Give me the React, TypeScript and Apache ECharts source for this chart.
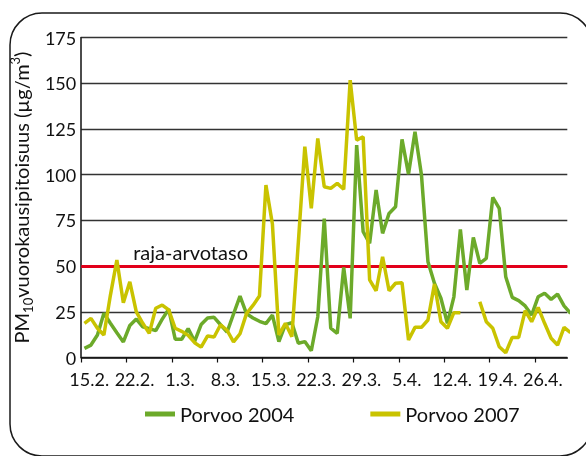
import React, { useEffect, useRef } from "react";
import * as echarts from "echarts";

// Days from 15.2. (index 0) ; each point sits in the middle of its day
const tickDays = [0, 7, 14, 21, 28, 35, 42, 49, 56, 63, 70];
const tickLabels = ["15.2.", "22.2.", "1.3.", "8.3.", "15.3.", "22.3.", "29.3.", "5.4.", "12.4.", "19.4.", "26.4."];

const porvoo2004 = [
  5, 6.8, 12.3, 24.2, 18.7, 13.5, 8.5, 17.5, 21, 16.8,
  15.8, 14.7, 21, 26.4, 10, 10, 15.8, 8.8, 18, 21.6,
  22, 17.9, 13.9, 23.8, 33.6, 24, 21.6, 19.8, 18.5, 23.2,
  8.7, 18, 19, 7.8, 8.7, 3.7, 22.3, 76, 16, 13.2,
  49.3, 21.4, 116.2, 68.8, 62.4, 91.6, 67.9, 78.8, 82.4, 119.3,
  100.3, 123.5, 99.8, 52.4, 40.6, 32.4, 18.7, 33.2, 70, 36.9,
  65.7, 51.5, 54.2, 87.6, 81.6, 44.2, 32.9, 31.1, 28.2, 23.2,
  33.2, 35.1, 31.8, 34.7, 28.2, 24.2,
];

const porvoo2007: (number | null)[] = [
  18.7, 21.4, 16, 12.3, 34, 53.3, 30, 41.4, 25, 18.7,
  13.2, 26.9, 28.7, 26, 16, 14.3, 12.1, 8.1, 5.7, 11.8,
  11.2, 17.9, 14.9, 8.5, 13, 24, 28.5, 33.6, 94.3, 73,
  12.3, 18.7, 11.4, 63, 115.3, 81.6, 119.8, 93.4, 92.5, 95.2,
  92, 151.7, 118.9, 120.7, 42.4, 36.5, 55.1, 36.5, 40.6, 40.9,
  9.6, 16.5, 16.5, 20.5, 40.2, 19.6, 16, 24.5, 24.5, null,
  null, 30.5, 19.6, 16, 5.9, 2.6, 11, 11, 25.6, 19.6,
  27.4, 18.7, 10.5, 6.8, 16.5, 13.6,
];

const limitValue = 50;
const limitLabel = "raja-arvotaso";
const seriesNames = ["Porvoo 2004", "Porvoo 2007"];

const FONT = "Lato, 'Open Sans', sans-serif";

export default function App() {
  const ref = useRef<HTMLDivElement>(null);

  useEffect(() => {
    if (!ref.current) return;
    const chart = echarts.init(ref.current, null, { renderer: "svg" });
    const toPairs = (arr: (number | null)[]) =>
      arr.map((v, i) => [i + 0.5, v == null ? "-" : v]);

    chart.setOption({
      animation: false,
      textStyle: { fontFamily: FONT },
      graphic: [
        {
          type: "rect",
          shape: { x: 10, y: 13, width: 582, height: 443, r: 32 },
          style: { fill: "none", stroke: "#1a1a1a", lineWidth: 1.5 },
          silent: true,
          z: -1,
        },
      ],
      grid: { left: 80.7, right: 18.7, top: 37.5, bottom: 98.5 },
      legend: {
        left: 140,
        top: 399,
        icon: "rect",
        itemWidth: 30,
        itemHeight: 5,
        itemGap: 76,
        textStyle: { fontSize: 20, color: "#111", fontFamily: FONT },
        data: seriesNames,
      },
      xAxis: {
        type: "value",
        min: 0,
        max: 75,
        splitLine: { show: false },
        axisLine: { lineStyle: { color: "#111", width: 1.5 } },
        axisTick: {
          show: true,
          customValues: tickDays,
          length: 5,
          lineStyle: { color: "#111", width: 1.2 },
        },
        axisLabel: {
          customValues: tickDays,
          formatter: (v: number) => tickLabels[Math.round(v / 7)] ?? "",
          fontSize: 18,
          color: "#111",
          margin: 12,
          padding: [0, 0, 0, 16],
          fontFamily: FONT,
        },
      },
      yAxis: {
        type: "value",
        min: 0,
        max: 175,
        interval: 25,
        axisLine: { show: true, lineStyle: { color: "#111", width: 1.5 } },
        axisTick: { show: false },
        axisLabel: { fontSize: 18, color: "#111", margin: 5, fontFamily: FONT },
        splitLine: { lineStyle: { color: "#333", width: 1.3 } },
        name: "{a|PM}{b|10}{a|vuorokausipitoisuus (µg/m}{c|3}{a|)}",
        nameLocation: "middle",
        nameRotate: 90,
        nameGap: 40,
        nameTextStyle: {
          rich: {
            a: { fontSize: 20, lineHeight: 26, color: "#111", fontFamily: FONT },
            b: { fontSize: 13, lineHeight: 13, verticalAlign: "bottom", color: "#111", fontFamily: FONT },
            c: { fontSize: 13, lineHeight: 13, verticalAlign: "top", color: "#111", fontFamily: FONT },
          },
        },
      },
      series: [
        {
          name: seriesNames[0],
          type: "line",
          data: toPairs(porvoo2004),
          symbol: "none",
          clip: false,
          itemStyle: { color: "#6caa2a" },
          lineStyle: { color: "#6caa2a", width: 3.5 },
          markLine: {
            silent: true,
            symbol: ["none", "none"],
            data: [{ yAxis: limitValue }],
            lineStyle: { color: "#e2001a", width: 3, type: "solid" },
            label: {
              show: true,
              formatter: limitLabel,
              position: "insideStartTop",
              distance: 4,
              padding: [0, 0, 0, 48],
              fontSize: 20,
              color: "#111",
              fontFamily: FONT,
            },
            z: 1,
          },
        },
        {
          name: seriesNames[1],
          type: "line",
          data: toPairs(porvoo2007),
          symbol: "none",
          clip: false,
          connectNulls: false,
          itemStyle: { color: "#c9c300" },
          lineStyle: { color: "#c9c300", width: 3.5 },
        },
      ],
    });
    return () => chart.dispose();
  }, []);

  return (
    <div
      ref={ref}
      style={{ position: "fixed", left: 0, top: 0, width: 586, height: 456 }}
    />
  );
}
